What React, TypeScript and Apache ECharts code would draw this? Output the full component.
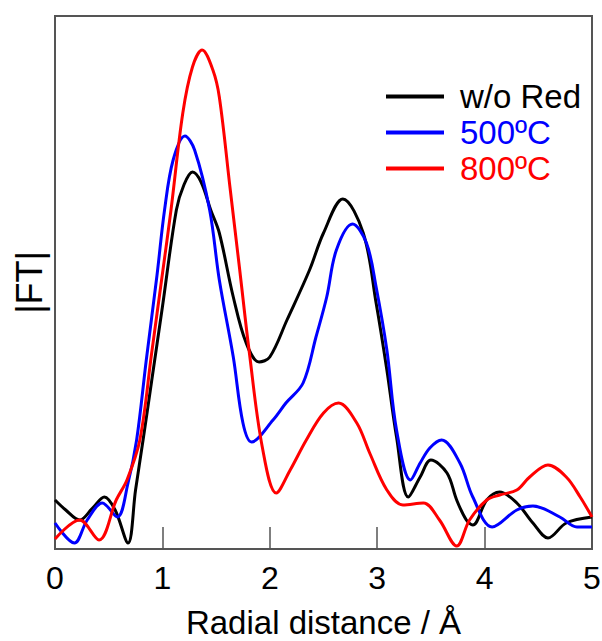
import React, { useEffect, useRef } from "react";
import * as echarts from "echarts";

const seriesNames = ["w/o Red", "500ºC", "800ºC"];
const seriesColors = ["#000000", "#0000ff", "#ff0000"];

const xBlack = [0, 0.1, 0.23, 0.35, 0.46, 0.56, 0.68, 0.75, 0.82, 0.9, 1.0, 1.13, 1.2, 1.28, 1.36, 1.45, 1.53, 1.66, 1.78, 1.9, 2.0, 2.16, 2.37, 2.5, 2.68, 2.87, 2.99, 3.09, 3.18, 3.29, 3.4, 3.5, 3.65, 3.74, 3.83, 3.89, 4.02, 4.14, 4.3, 4.45, 4.59, 4.76, 5.0];
const yBlack = [0.49, 0.39, 0.29, 0.41, 0.52, 0.39, 0.06, 0.59, 1.09, 1.68, 2.42, 3.39, 3.64, 3.77, 3.67, 3.39, 3.16, 2.52, 2.06, 1.87, 1.92, 2.29, 2.79, 3.16, 3.5, 3.16, 2.46, 1.79, 1.12, 0.52, 0.72, 0.89, 0.76, 0.49, 0.29, 0.24, 0.49, 0.57, 0.46, 0.26, 0.11, 0.26, 0.32];

const xBlue = [0, 0.18, 0.3, 0.44, 0.58, 0.68, 0.76, 0.85, 0.95, 1.02, 1.1, 1.21, 1.3, 1.44, 1.53, 1.66, 1.75, 1.83, 2.03, 2.15, 2.31, 2.43, 2.53, 2.62, 2.77, 2.9, 2.99, 3.09, 3.18, 3.31, 3.4, 3.49, 3.6, 3.77, 3.89, 4.07, 4.3, 4.45, 4.7, 4.86, 5.0];
const yBlue = [0.26, 0.06, 0.29, 0.46, 0.32, 0.66, 1.09, 1.89, 2.74, 3.39, 3.89, 4.13, 3.99, 3.39, 2.69, 1.92, 1.26, 1.07, 1.29, 1.46, 1.66, 2.12, 2.52, 2.99, 3.25, 3.06, 2.62, 1.99, 1.19, 0.69, 0.86, 1.01, 1.09, 0.86, 0.52, 0.22, 0.39, 0.43, 0.32, 0.22, 0.22];

const xRed = [0, 0.23, 0.41, 0.57, 0.67, 0.79, 0.9, 1.0, 1.08, 1.19, 1.28, 1.37, 1.47, 1.53, 1.63, 1.72, 1.81, 1.93, 2.06, 2.19, 2.34, 2.5, 2.64, 2.81, 2.93, 3.09, 3.24, 3.43, 3.58, 3.74, 3.86, 4.02, 4.14, 4.3, 4.42, 4.59, 4.76, 4.89, 5.0];
const yRed = [0.1, 0.29, 0.09, 0.49, 0.69, 1.09, 1.96, 2.75, 3.39, 4.36, 4.82, 4.99, 4.79, 4.52, 3.61, 2.79, 1.96, 1.02, 0.56, 0.79, 1.09, 1.36, 1.46, 1.26, 0.96, 0.59, 0.44, 0.46, 0.29, 0.03, 0.29, 0.49, 0.54, 0.59, 0.72, 0.84, 0.72, 0.52, 0.32];

const xTickValues = [0, 1, 2, 3, 4, 5];
const xTitle = "Radial distance / Å";
const yTitle = "|FT|";

const FONT = "'Liberation Sans', Arial, Helvetica, sans-serif";

function pairs(xs: number[], ys: number[]) {
  return xs.map((x, i) => [x, ys[i]]);
}

export default function App() {
  const ref = useRef<HTMLDivElement>(null);
  useEffect(() => {
    if (!ref.current) return;
    const chart = echarts.init(ref.current, undefined, { renderer: "svg" });
    const datasets = [pairs(xBlack, yBlack), pairs(xBlue, yBlue), pairs(xRed, yRed)];
    chart.setOption({
      animation: false,
      backgroundColor: "#ffffff",
      grid: {
        left: 55,
        right: 10,
        top: 16,
        bottom: 92,
        containLabel: false,
        outerBoundsMode: "none",
        show: true,
        borderColor: "#555555",
        borderWidth: 2,
        backgroundColor: "transparent",
      },
      legend: {
        orient: "vertical",
        left: 386,
        top: 80,
        padding: 0,
        itemWidth: 58,
        itemHeight: 4,
        itemGap: 3,
        icon: "rect",
        textStyle: { fontSize: 33, fontFamily: FONT, padding: [0, 0, 0, 11] },
        data: seriesNames.map((n, i) => ({ name: n, textStyle: { color: seriesColors[i] } })),
      },
      xAxis: {
        type: "value",
        min: 0,
        max: 5,
        interval: 1,
        axisLine: { show: true, lineStyle: { color: "#555555", width: 2 } },
        axisTick: { show: true, inside: true, length: 22, lineStyle: { color: "#555555", width: 1.5 } },
        axisLabel: {
          fontSize: 32,
          color: "#000000",
          fontFamily: FONT,
          margin: 13,
          formatter: (v: number) => (xTickValues.includes(v) ? String(v) : ""),
        },
        splitLine: { show: false },
        name: xTitle,
        nameLocation: "middle",
        nameGap: 73,
        nameTextStyle: {
          fontSize: 33,
          lineHeight: 28,
          verticalAlign: "middle",
          color: "#000000",
          fontFamily: FONT,
        },
      },
      yAxis: {
        type: "value",
        min: 0,
        max: 5.33,
        axisLine: { show: true, lineStyle: { color: "#555555", width: 2 } },
        axisTick: { show: false },
        axisLabel: { show: false },
        splitLine: { show: false },
        name: yTitle,
        nameLocation: "middle",
        nameGap: 8,
        nameTextStyle: { fontSize: 36, color: "#000000", fontFamily: FONT },
      },
      series: seriesNames.map((n, i) => ({
        name: n,
        type: "line",
        data: datasets[i],
        smooth: 0.35,
        showSymbol: false,
        symbol: "none",
        lineStyle: { color: seriesColors[i], width: 3 },
        itemStyle: { color: seriesColors[i] },
        z: 2 + i,
      })),
    });
    return () => chart.dispose();
  }, []);
  return (
    <div
      ref={ref}
      style={{ position: "fixed", left: 0, top: 0, width: 602, height: 641 }}
    />
  );
}
